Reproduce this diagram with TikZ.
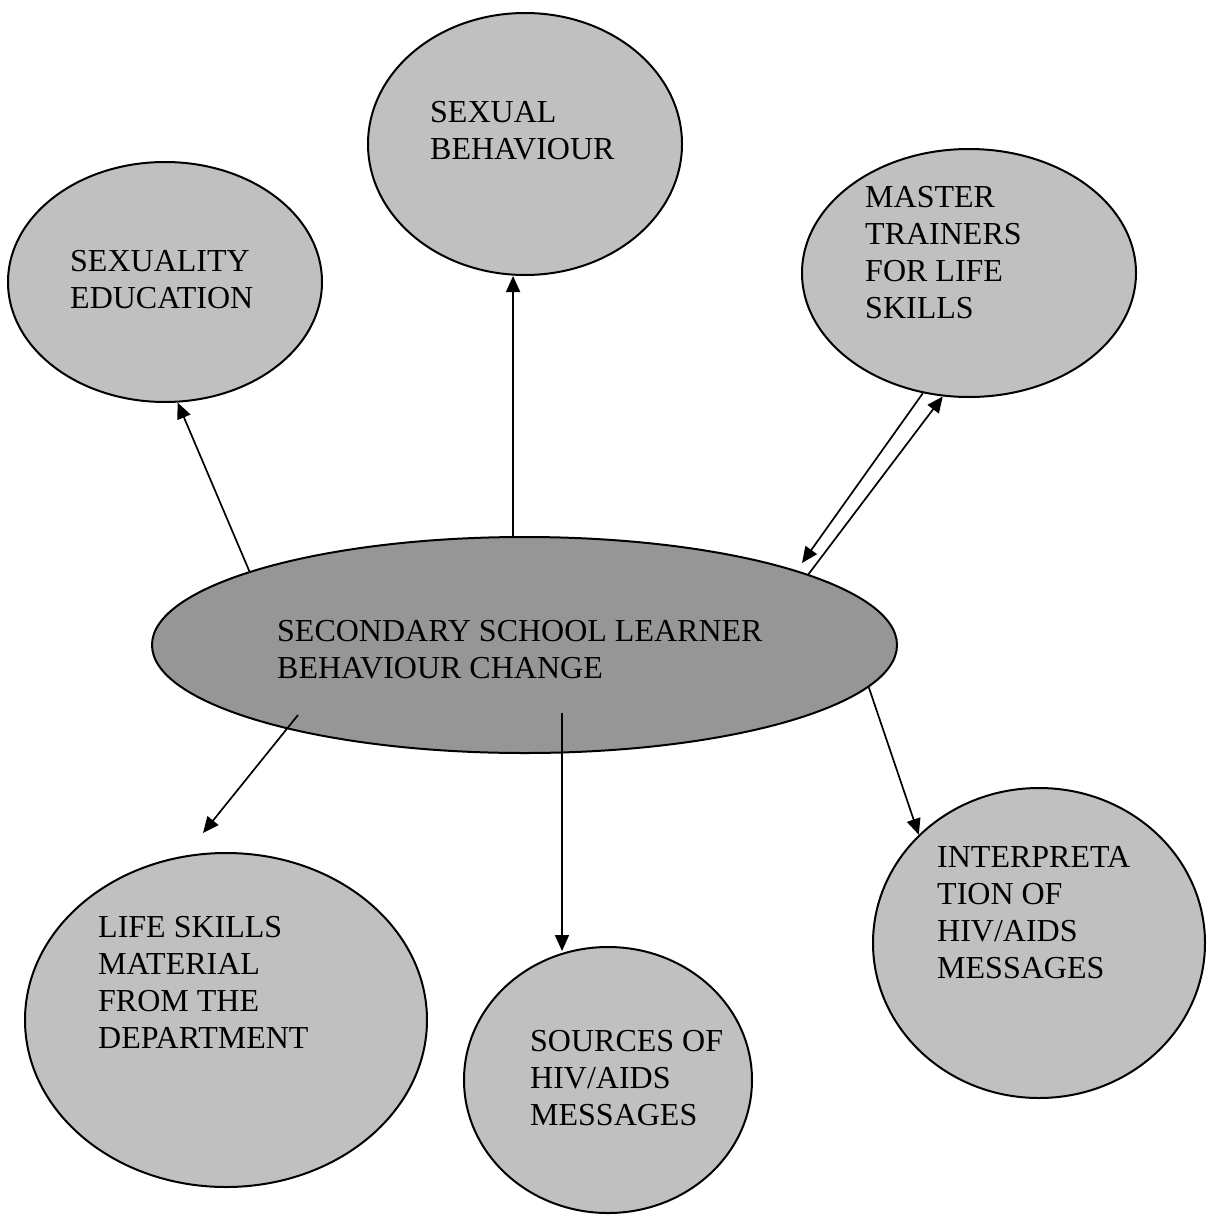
\documentclass[tikz,border=0pt]{standalone}
\usepackage{fontspec}
\setmainfont{Liberation Serif}
\usetikzlibrary{shapes.geometric,arrows.meta}
\definecolor{bubfill}{RGB}{192,192,192}
\definecolor{cenfill}{RGB}{150,150,150}
\begin{document}
\begin{tikzpicture}[x=1pt,y=-1pt,
  bub/.style={ellipse,draw=black,line width=2pt,fill=bubfill,inner sep=0pt},
  lbl/.style={anchor=north west,inner sep=0pt,align=left,font=\fontsize{32}{37}\selectfont},
  arr/.style={line width=1.7pt,-{Triangle[length=16pt,width=14pt]}}]
\useasboundingbox (0,0) rectangle (1207,1215);
% ellipses
\node[bub,minimum width=314pt,minimum height=240pt] (sexed) at (165,282) {};
\node[bub,minimum width=314pt,minimum height=262pt] (sexbeh) at (525,144) {};
\node[bub,minimum width=334pt,minimum height=248pt] (master) at (969,273) {};
\node[bub,fill=cenfill,minimum width=745pt,minimum height=216pt] (cen) at (524.5,645) {};
\node[bub,minimum width=402pt,minimum height=334pt] (life) at (226,1020) {};
\node[bub,minimum width=288pt,minimum height=266pt] (src) at (608,1080) {};
\node[bub,minimum width=332pt,minimum height=310pt] (interp) at (1039,943) {};
% texts
\node[lbl] (t1) at (70,250.5) {SEXUALITY\\EDUCATION};
\node[lbl] (t2) at (430,101.5) {SEXUAL\\BEHAVIOUR};
\node[lbl] (t3) at (865,186.5) {MASTER\\TRAINERS\\FOR LIFE\\SKILLS};
\node[lbl] (t4) at (277,620.5) {SECONDARY SCHOOL LEARNER\\BEHAVIOUR CHANGE};
\node[lbl] (t5) at (98,916.5) {LIFE SKILLS\\MATERIAL\\FROM THE\\DEPARTMENT};
\node[lbl] (t6) at (530,1030.5) {SOURCES OF\\HIV/AIDS\\MESSAGES};
\node[lbl] (t7) at (937,846.5) {INTERPRETA\\TION OF\\HIV/AIDS\\MESSAGES};
% free ends
\coordinate (c1) at (802,563);
\coordinate (c4s) at (298,715);
\coordinate (c4e) at (203,833);
\coordinate (c5s) at (562,713);
\coordinate (c5e) at (562,951);
% connectors
\draw[arr] (cen.165.6) -- (sexed.276.2);
\draw[arr] (cen.96.1) -- (cen.96.1 |- sexbeh.south);
\draw[arr] (master.249.2) -- (c1);
\draw[arr] (cen.14.06) -- (master.258.2);
\draw[arr] (c4s) -- (c4e);
\draw[arr] (c5s) -- (c5e);
\draw[arr] (cen.353) -- (interp.138.4);
\end{tikzpicture}
\end{document}
